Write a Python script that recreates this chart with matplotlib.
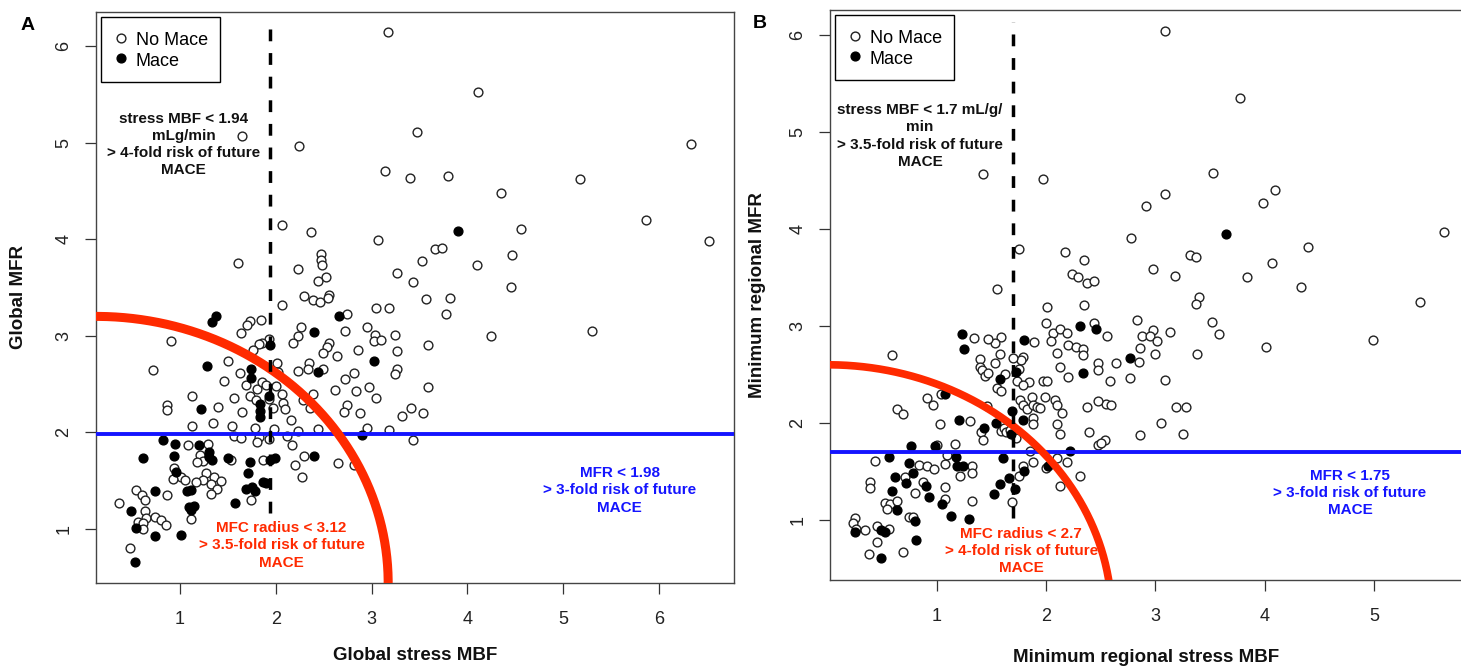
import matplotlib
matplotlib.use('Agg')
import matplotlib.pyplot as plt
import numpy as np

plt.rcParams['font.family'] = ['Liberation Sans', 'DejaVu Sans']

# ---------------- data: panel A (Global) ----------------
a_nomace = [
    (3.17, 6.14), (4.11, 5.52), (3.47, 5.11), (1.65, 5.07), (2.24, 4.97), (6.33, 4.99), (3.14, 4.71),
    (3.40, 4.63), (3.80, 4.65), (5.18, 4.62), (4.35, 4.48), (5.86, 4.20), (2.06, 4.15), (2.37, 4.07),
    (3.07, 3.99), (6.52, 3.98), (4.56, 4.11), (3.66, 3.90), (3.73, 3.91), (3.53, 3.77), (4.47, 3.84),
    (4.10, 3.73), (1.61, 3.75), (2.23, 3.69), (2.47, 3.85), (2.47, 3.78), (2.48, 3.73), (2.52, 3.61),
    (2.44, 3.57), (3.27, 3.65), (3.43, 3.56), (4.45, 3.51), (3.57, 3.38), (3.82, 3.39), (3.78, 3.23),
    (2.29, 3.41), (2.39, 3.37), (2.56, 3.42), (2.46, 3.35), (2.54, 3.39), (2.06, 3.32), (3.05, 3.29),
    (3.18, 3.29), (2.74, 3.23), (1.85, 3.16), (1.73, 3.15), (1.70, 3.11), (1.64, 3.03), (2.26, 3.09),
    (2.72, 3.05), (2.23, 3.00), (2.18, 2.93), (2.95, 3.09), (3.04, 3.01), (3.02, 2.95), (3.10, 2.96),
    (3.24, 3.01), (4.25, 3.00), (5.30, 3.05), (3.59, 2.90), (2.56, 2.93), (2.53, 2.88), (2.49, 2.82),
    (2.64, 2.79), (2.86, 2.85), (3.26, 2.84), (2.35, 2.72), (2.34, 2.66), (2.23, 2.64), (2.49, 2.66),
    (3.26, 2.66), (3.24, 2.60), (2.82, 2.61), (2.72, 2.55), (2.62, 2.44), (2.84, 2.43), (2.97, 2.47),
    (3.05, 2.36), (2.39, 2.40), (3.59, 2.47), (2.74, 2.28), (2.71, 2.21), (2.88, 2.20), (3.41, 2.25),
    (3.54, 2.20), (3.32, 2.17), (2.95, 2.05), (3.18, 2.03), (3.43, 1.92), (2.65, 1.68), (2.82, 1.66),
    (2.29, 1.76), (2.20, 1.66), (2.44, 2.04), (2.16, 2.13), (2.17, 1.87), (2.12, 1.96), (2.23, 2.01),
    (2.27, 1.54), (2.28, 2.34), (2.36, 2.25), (2.08, 2.30), (2.10, 2.24), (2.01, 2.72), (2.02, 2.63),
    (2.00, 2.48), (2.06, 2.40), (1.97, 2.25), (1.93, 2.35), (1.78, 2.05), (1.87, 1.71), (0.91, 2.95),
    (1.93, 2.97), (1.86, 2.93), (1.82, 2.92), (1.76, 2.85), (0.72, 2.65), (1.50, 2.74), (1.625, 2.62),
    (1.455, 2.53), (1.69, 2.49), (1.80, 2.45), (1.73, 2.38), (1.79, 2.34), (1.86, 2.52), (1.90, 2.49),
    (1.13, 2.38), (1.56, 2.36), (0.86, 2.28), (0.86, 2.23), (1.40, 2.26), (1.65, 2.21), (1.34, 2.10),
    (1.12, 2.07), (1.545, 2.07), (1.98, 2.04), (1.08, 1.87), (1.29, 1.88), (1.56, 1.96), (1.64, 1.94),
    (1.82, 1.95), (1.80, 1.90), (1.93, 1.93), (1.21, 1.77), (1.24, 1.70), (1.18, 1.69), (1.535, 1.71),
    (0.94, 1.63), (1.01, 1.54), (1.05, 1.51), (0.93, 1.52), (1.27, 1.58), (1.24, 1.51), (1.17, 1.49),
    (1.35, 1.54), (1.32, 1.47), (1.43, 1.50), (1.39, 1.41), (1.32, 1.36), (1.74, 1.30), (0.86, 1.35),
    (0.54, 1.40), (0.60, 1.35), (0.63, 1.30), (0.36, 1.27), (0.63, 1.19), (0.65, 1.11), (0.56, 1.07),
    (0.61, 1.06), (0.74, 1.12), (0.80, 1.09), (0.85, 1.04), (0.61, 1.00), (0.48, 0.80), (1.11, 1.10),
]
a_mace = [
    (3.90, 4.09), (2.66, 3.20), (2.40, 3.04), (3.02, 2.74), (2.44, 2.63), (2.90, 1.97), (2.40, 1.76),
    (1.94, 2.90), (1.93, 2.38), (1.83, 2.29), (1.84, 2.22), (1.84, 2.16), (1.99, 1.73), (1.94, 1.71),
    (1.375, 3.21), (1.33, 3.14), (1.28, 2.69), (1.74, 2.66), (1.74, 2.56), (1.22, 2.24), (0.82, 1.92),
    (0.95, 1.88), (1.20, 1.87), (0.94, 1.76), (1.305, 1.80), (1.305, 1.75), (1.33, 1.71), (0.61, 1.74),
    (1.50, 1.74), (1.73, 1.69), (1.71, 1.58), (0.96, 1.59), (1.87, 1.49), (1.90, 1.48), (1.69, 1.41),
    (1.75, 1.43), (1.78, 1.39), (1.07, 1.39), (1.11, 1.40), (1.57, 1.27), (0.74, 1.39), (0.49, 1.19),
    (0.54, 1.01), (0.74, 0.93), (1.01, 0.94), (0.53, 0.66), (1.09, 1.23), (1.15, 1.24), (1.11, 1.20),
]

# ---------------- data: panel B (Minimum regional) ----------------
b_nomace = [
    (3.09, 6.04), (3.77, 5.35), (3.53, 4.58), (4.09, 4.40), (3.98, 4.27), (3.09, 4.36), (2.91, 4.24),
    (2.78, 3.91), (5.64, 3.97), (4.40, 3.81), (3.32, 3.73), (3.37, 3.71), (2.98, 3.59), (3.18, 3.52),
    (4.07, 3.65), (3.84, 3.51), (4.33, 3.40), (5.42, 3.25), (3.40, 3.30), (3.37, 3.23), (2.83, 3.06),
    (3.52, 3.04), (3.58, 2.92), (4.99, 2.86), (2.98, 2.96), (2.88, 2.90), (2.95, 2.90), (3.01, 2.85),
    (3.13, 2.94), (2.56, 2.90), (2.86, 2.77), (3.00, 2.71), (3.38, 2.71), (4.01, 2.78), (2.85, 2.63),
    (2.64, 2.62), (2.58, 2.43), (2.77, 2.46), (3.09, 2.44), (2.55, 2.20), (2.59, 2.19), (3.19, 2.16),
    (3.28, 2.16), (3.05, 2.00), (2.86, 1.88), (3.25, 1.89), (2.54, 1.82), (1.425, 4.57), (1.97, 4.52),
    (1.75, 3.79), (2.17, 3.76), (2.35, 3.68), (2.24, 3.54), (2.29, 3.50), (2.37, 3.44), (2.44, 3.46),
    (1.55, 3.38), (2.01, 3.20), (2.35, 3.22), (2.00, 3.03), (2.06, 2.93), (2.13, 2.97), (2.19, 2.93),
    (2.44, 3.03), (1.59, 2.89), (1.53, 2.82), (1.89, 2.83), (2.04, 2.85), (2.20, 2.80), (2.27, 2.78),
    (2.34, 2.76), (2.34, 2.70), (2.10, 2.72), (1.575, 2.71), (1.79, 2.68), (1.77, 2.65), (2.47, 2.62),
    (2.47, 2.55), (2.13, 2.58), (2.20, 2.47), (1.53, 2.62), (1.62, 2.51), (1.75, 2.56), (1.73, 2.43),
    (1.84, 2.42), (1.79, 2.39), (1.97, 2.43), (2.01, 2.43), (1.55, 2.36), (1.59, 2.33), (1.87, 2.27),
    (1.99, 2.27), (2.08, 2.24), (2.10, 2.19), (2.14, 2.10), (2.37, 2.16), (2.47, 2.23), (1.76, 2.24),
    (1.79, 2.19), (1.82, 2.14), (1.88, 2.19), (1.92, 2.16), (1.94, 2.15), (1.88, 2.05), (1.88, 1.99),
    (2.10, 1.99), (2.13, 1.89), (1.72, 1.84), (2.39, 1.91), (2.47, 1.77), (2.50, 1.79), (1.85, 1.71),
    (1.79, 1.56), (1.755, 1.45), (1.875, 1.60), (2.00, 1.54), (2.10, 1.64), (2.19, 1.60), (2.31, 1.45),
    (2.13, 1.35), (1.685, 1.19), (1.34, 2.88), (1.47, 2.87), (0.59, 2.70), (1.39, 2.66), (1.39, 2.58),
    (1.41, 2.55), (1.44, 2.48), (1.47, 2.52), (1.695, 2.67), (0.905, 2.26), (0.96, 2.19), (1.04, 2.30),
    (0.63, 2.14), (0.69, 2.09), (1.46, 2.17), (1.03, 1.99), (1.30, 2.02), (1.40, 1.91), (1.42, 1.82),
    (1.59, 1.92), (1.61, 1.95), (1.63, 1.91), (1.67, 1.93), (1.00, 1.77), (1.165, 1.78), (0.43, 1.61),
    (0.84, 1.57), (0.905, 1.56), (0.97, 1.53), (1.07, 1.58), (1.095, 1.67), (1.32, 1.56), (1.21, 1.45),
    (1.32, 1.48), (0.71, 1.44), (0.875, 1.39), (0.385, 1.39), (0.385, 1.33), (0.80, 1.275), (1.07, 1.34),
    (1.07, 1.22), (1.32, 1.20), (0.52, 1.17), (0.57, 1.16), (0.63, 1.20), (0.545, 1.11), (0.74, 1.03),
    (0.78, 1.03), (0.25, 1.02), (0.23, 0.97), (0.26, 0.91), (0.34, 0.90), (0.45, 0.94), (0.56, 0.91),
    (0.45, 0.77), (0.38, 0.65), (0.69, 0.67),
]
b_mace = [
    (3.645, 3.95), (2.77, 2.67), (2.31, 3.00), (2.46, 2.97), (1.80, 2.86), (2.34, 2.52), (1.72, 2.53),
    (1.58, 2.45), (1.685, 2.12), (1.79, 2.03), (1.54, 2.00), (1.68, 1.89), (2.22, 1.71), (1.60, 1.64),
    (1.80, 1.50), (2.02, 1.56), (1.66, 1.43), (1.58, 1.37), (1.52, 1.27), (1.71, 1.32), (1.23, 2.92),
    (1.25, 2.76), (1.07, 2.30), (1.205, 2.03), (1.43, 1.95), (0.76, 1.76), (0.98, 1.76), (0.56, 1.65),
    (0.74, 1.59), (1.17, 1.65), (1.18, 1.56), (1.24, 1.56), (0.615, 1.44), (0.585, 1.30), (0.72, 1.38),
    (0.78, 1.48), (0.90, 1.35), (0.93, 1.24), (1.05, 1.165), (0.63, 1.10), (0.80, 0.99), (1.125, 1.04),
    (1.29, 1.01), (0.25, 0.88), (0.49, 0.90), (0.52, 0.88), (0.49, 0.61), (0.81, 0.79),
]

# thresholds
a_mbf_cut, a_mfr_cut = 1.94, 1.98
b_mbf_cut, b_mfr_cut = 1.70, 1.70

legend_labels = ['No Mace', 'Mace']
a_texts = {
    'mbf': 'stress MBF < 1.94\nmLg/min\n> 4-fold risk of future\nMACE',
    'mfc': 'MFC radius < 3.12\n> 3.5-fold risk of future\nMACE',
    'mfr': 'MFR < 1.98\n> 3-fold risk of future\nMACE',
}
b_texts = {
    'mbf': 'stress MBF < 1.7 mL/g/\nmin\n> 3.5-fold risk of future\nMACE',
    'mfc': 'MFC radius < 2.7\n> 4-fold risk of future\nMACE',
    'mfr': 'MFR < 1.75\n> 3-fold risk of future\nMACE',
}

RED = '#ff2a00'
BLUE = '#1414ff'
W, H = 1461, 667

fig = plt.figure(figsize=(W / 100, H / 100), dpi=100)


def px_axes(l, t, r, b):
    return [l / W, 1 - b / H, (r - l) / W, (b - t) / H]


axA = fig.add_axes(px_axes(96, 12, 734, 583))
axB = fig.add_axes(px_axes(830, 10, 1463, 580))


def style(ax, xlim, ylim, xticks, yticks, ypad):
    ax.set_xlim(*xlim)
    ax.set_ylim(*ylim)
    ax.set_xticks(xticks)
    ax.set_yticks(yticks)
    ax.tick_params(direction='out', length=8, width=0.9, color='#333',
                   labelcolor='#222', labelsize=13)
    ax.tick_params(axis='x', pad=12)
    ax.tick_params(axis='y', pad=ypad)
    for lab in ax.get_yticklabels():
        lab.set_rotation(90)
        lab.set_va('center')
    for s in ax.spines.values():
        s.set_color('#444')
        s.set_linewidth(1.0)


def points(ax, nomace, mace):
    xo, yo = zip(*nomace)
    xm, ym = zip(*mace)
    h1 = ax.scatter(xo, yo, s=40, facecolors='white', edgecolors='#222', linewidths=1.0, zorder=2)
    h2 = ax.scatter(xm, ym, s=40, facecolors='black', edgecolors='black', linewidths=1.0, zorder=2)
    leg = ax.legend([h1, h2], legend_labels, loc='upper left', fontsize=13, frameon=True,
                    fancybox=False, edgecolor='black', framealpha=1, scatterpoints=1,
                    handlelength=0.9, handleheight=1.3, handletextpad=0.35, borderpad=0.65,
                    labelspacing=0.05, borderaxespad=0.3)
    leg.get_frame().set_linewidth(1.0)
    leg.set_zorder(10)


# ---------- Panel A ----------
style(axA, (0.123, 6.783), (0.441, 6.352), [1, 2, 3, 4, 5, 6], [1, 2, 3, 4, 5, 6], 9)
points(axA, a_nomace, a_mace)
axA.axhline(a_mfr_cut, color=BLUE, lw=2.8, zorder=3)
t = np.linspace(-0.05, np.pi / 2 + 0.05, 400)
axA.plot(0.123 + 3.05 * np.cos(t), 0.441 + 2.76 * np.sin(t), color=RED, lw=6.5,
         solid_capstyle='butt', zorder=4)
axA.plot([a_mbf_cut, a_mbf_cut], [1.17, 6.29], color='black', lw=2.5, dashes=(3.4, 3.4),
         dash_capstyle='butt', zorder=5)
tkw = dict(ha='center', va='center', fontsize=11, fontweight='bold', linespacing=1.3, zorder=6)
axA.text(1.04, 4.98, a_texts['mbf'], color='#111', **tkw)
axA.text(2.06, 0.83, a_texts['mfc'], color=RED, **tkw)
axA.text(5.59, 1.40, a_texts['mfr'], color=BLUE, **tkw)

# ---------- Panel B ----------
style(axB, (0.021, 5.815), (0.381, 6.258), [1, 2, 3, 4, 5], [1, 2, 3, 4, 5, 6], 9)
points(axB, b_nomace, b_mace)
axB.axhline(b_mfr_cut, color=BLUE, lw=2.8, zorder=3)
axB.plot(2.6 * np.cos(t), 2.6 * np.sin(t), color=RED, lw=5.5, solid_capstyle='butt', zorder=4)
axB.plot([b_mbf_cut, b_mbf_cut], [1.02, 6.13], color='black', lw=2.5, dashes=(3.4, 3.4),
         dash_capstyle='butt', zorder=5)
axB.text(0.844, 4.96, b_texts['mbf'], color='#111', **tkw)
axB.text(1.77, 0.68, b_texts['mfc'], color=RED, **tkw)
axB.text(4.78, 1.28, b_texts['mfr'], color=BLUE, **tkw)

# ---------- labels ----------
lkw = dict(fontsize=13.5, fontweight='bold', color='#111', ha='center', va='center')
fig.text(415 / W, 1 - 655 / H, 'Global stress MBF', **lkw)
fig.text(19 / W, 1 - 297 / H, 'Global MFR', rotation=90, **lkw)
fig.text(1146 / W, 1 - 657 / H, 'Minimum regional stress MBF', **lkw)
fig.text(758 / W, 1 - 295 / H, 'Minimum regional MFR', rotation=90, **lkw)
fig.text(28 / W, 1 - 25 / H, 'A', fontsize=14, fontweight='bold', ha='center', va='center')
fig.text(760 / W, 1 - 24 / H, 'B', fontsize=14, fontweight='bold', ha='center', va='center')

fig.savefig('out.png', dpi=100, facecolor='white')
